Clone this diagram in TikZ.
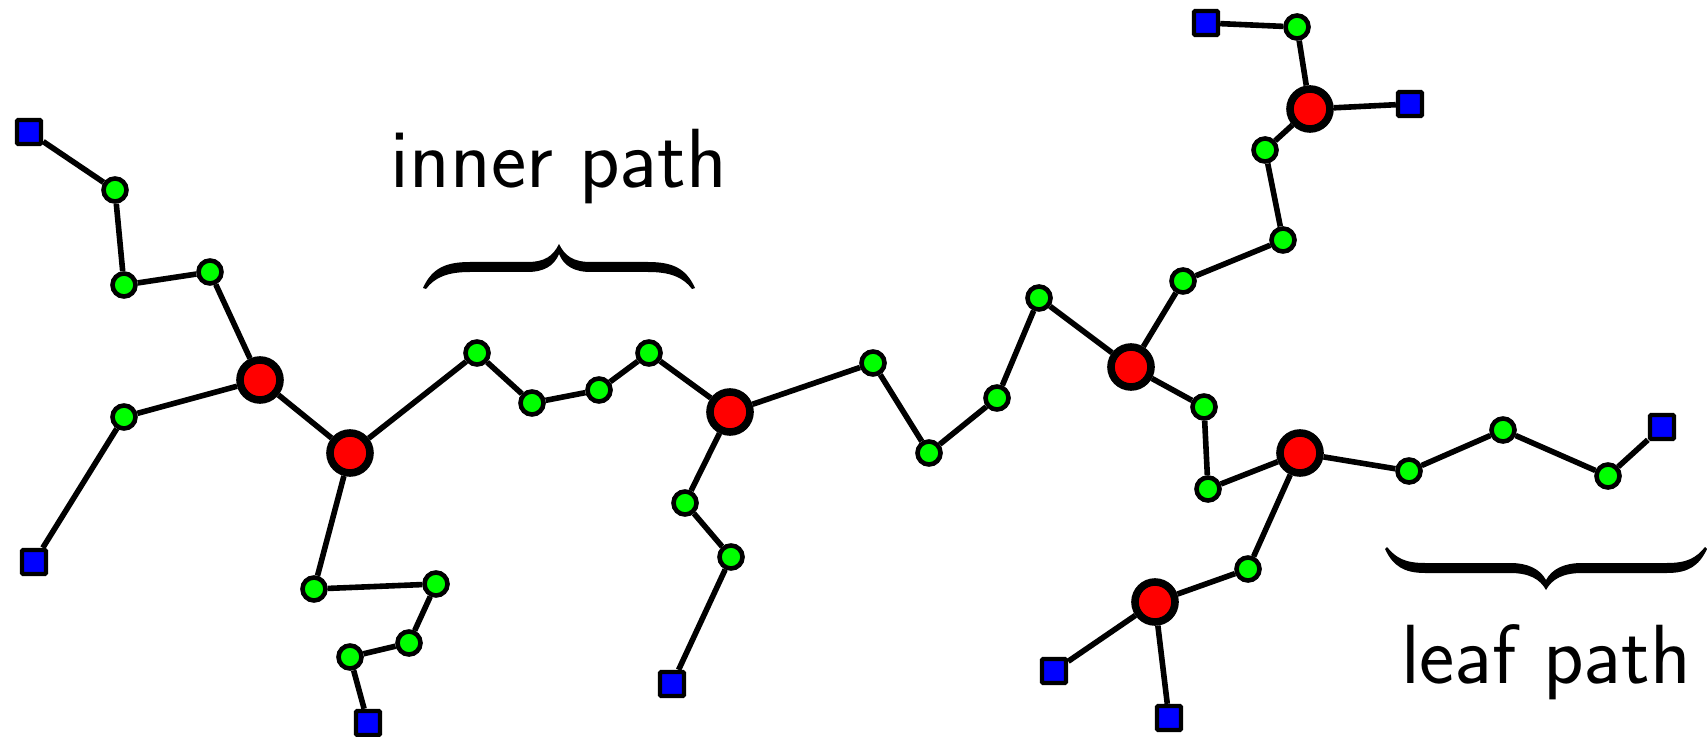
\documentclass[tikz,border=0pt]{standalone}
\usetikzlibrary{backgrounds}
\definecolor{gnode}{RGB}{0,255,0}
\definecolor{rnode}{RGB}{255,0,0}
\definecolor{bnode}{RGB}{0,0,255}
\begin{document}
\begin{tikzpicture}[x=0.5pt,y=-0.5pt,
  gn/.style={circle,draw=black,fill=gnode,line width=2.3pt,minimum size=11.5pt,inner sep=0pt},
  rn/.style={circle,draw=black,fill=rnode,line width=3.8pt,minimum size=20pt,inner sep=0pt},
  bn/.style={rectangle,draw=black,fill=bnode,line width=2.2pt,minimum size=12pt,inner sep=0pt,rounded corners=0.6pt},
  edge/.style={draw=black,line width=2.8pt},
  lbl/.style={anchor=base,inner sep=0pt,font=\fontsize{42}{44}\selectfont\sffamily},
  bracefill/.style={fill=black,draw=none}]
\useasboundingbox (0,0) rectangle (1707,737);
% leaves
\node[bn] (B1) at (29,132) {};
\node[bn] (B2) at (34,562) {};
\node[bn] (B3) at (368,723) {};
\node[bn] (B4) at (672,684) {};
\node[bn] (B5) at (1206,23) {};
\node[bn] (B6) at (1410,104) {};
\node[bn] (B7) at (1662,427) {};
\node[bn] (B8) at (1054,671) {};
\node[bn] (B9) at (1169,718) {};
% branch nodes
\node[rn] (R1) at (260,380) {};
\node[rn] (R2) at (350,453) {};
\node[rn] (R3) at (730,412) {};
\node[rn] (R4) at (1131,367) {};
\node[rn] (R5) at (1310,109) {};
\node[rn] (R6) at (1300,453) {};
\node[rn] (R7) at (1155,602) {};
% path nodes
\node[gn] (G1) at (115,190) {};
\node[gn] (G2) at (124,285) {};
\node[gn] (G3) at (210,272) {};
\node[gn] (G4) at (124,417) {};
\node[gn] (G5) at (314,589) {};
\node[gn] (G6) at (436,584) {};
\node[gn] (G7) at (409,643) {};
\node[gn] (G8) at (350,657) {};
\node[gn] (G9) at (477,353) {};
\node[gn] (G10) at (532,403) {};
\node[gn] (G11) at (599,390) {};
\node[gn] (G12) at (649,353) {};
\node[gn] (G13) at (685,503) {};
\node[gn] (G14) at (731,557) {};
\node[gn] (G15) at (873,363) {};
\node[gn] (G16) at (929,453) {};
\node[gn] (G17) at (997,398) {};
\node[gn] (G18) at (1039,298) {};
\node[gn] (G19) at (1297,27) {};
\node[gn] (G20) at (1265,150) {};
\node[gn] (G21) at (1283,240) {};
\node[gn] (G22) at (1183,281) {};
\node[gn] (G23) at (1204,407) {};
\node[gn] (G24) at (1208,489) {};
\node[gn] (G25) at (1409,471) {};
\node[gn] (G26) at (1503,430) {};
\node[gn] (G27) at (1608,476) {};
\node[gn] (G28) at (1248,569) {};
% edges
\begin{scope}[on background layer]
\path[edge] (B1) -- (G1) -- (G2) -- (G3) -- (R1);
\path[edge] (R1) -- (G4) -- (B2);
\path[edge] (R1) -- (R2);
\path[edge] (R2) -- (G5) -- (G6) -- (G7) -- (G8) -- (B3);
\path[edge] (R2) -- (G9) -- (G10) -- (G11) -- (G12) -- (R3);
\path[edge] (R3) -- (G13) -- (G14) -- (B4);
\path[edge] (R3) -- (G15) -- (G16) -- (G17) -- (G18) -- (R4);
\path[edge] (R4) -- (G22) -- (G21) -- (G20) -- (R5);
\path[edge] (R5) -- (G19) -- (B5);
\path[edge] (R5) -- (B6);
\path[edge] (R4) -- (G23) -- (G24) -- (R6);
\path[edge] (R6) -- (G25) -- (G26) -- (G27) -- (B7);
\path[edge] (R6) -- (G28) -- (R7);
\path[edge] (R7) -- (B8);
\path[edge] (R7) -- (B9);
\end{scope}
% braces
\path[bracefill] (423,288) .. controls (432,268) and (446,262) .. (470,262) -- (527,262)
  .. controls (545,262) and (553,256) .. (559,244)
  .. controls (565,256) and (573,262) .. (591,262) -- (648,262)
  .. controls (672,262) and (686,268) .. (695,288)
  -- (692,289) .. controls (683,277) and (670,272) .. (648,272) -- (591,272)
  .. controls (574,272) and (564,266) .. (559,254)
  .. controls (554,266) and (544,272) .. (527,272) -- (470,272)
  .. controls (448,272) and (435,277) .. (426,289) -- cycle;
\path[bracefill] (1387,547) .. controls (1396,558) and (1405,563) .. (1425,563) -- (1510,563)
  .. controls (1528,563) and (1540,569) .. (1546,580)
  .. controls (1552,569) and (1564,563) .. (1582,563) -- (1667,563)
  .. controls (1687,563) and (1696,558) .. (1705,547)
  -- (1707,549) .. controls (1699,566) and (1688,573) .. (1667,573) -- (1582,573)
  .. controls (1563,573) and (1552,579) .. (1546,590)
  .. controls (1540,579) and (1529,573) .. (1510,573) -- (1425,573)
  .. controls (1404,573) and (1393,566) .. (1385,549) -- cycle;
% labels
\node[lbl] (innerlbl) at (559,188) {inner path};
\node[lbl] (leaflbl) at (1546,683) {leaf path};
\end{tikzpicture}
\end{document}
